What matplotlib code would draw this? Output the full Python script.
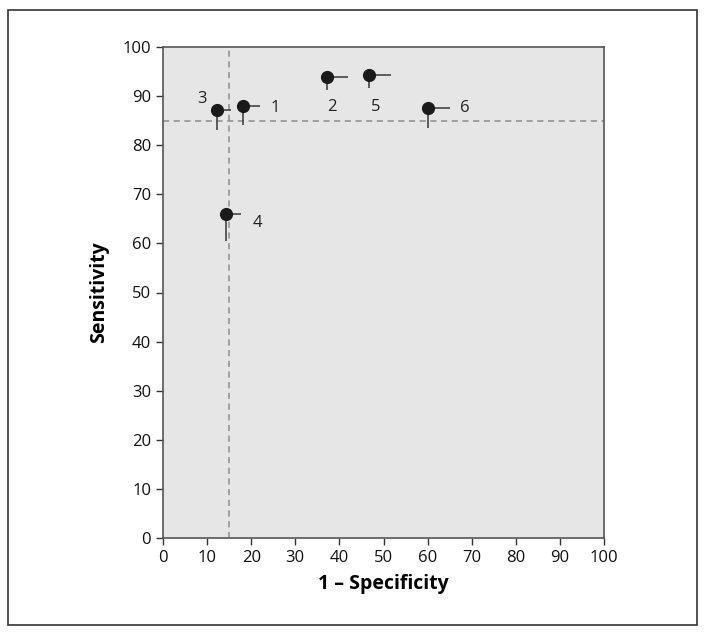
import matplotlib
matplotlib.use("Agg")
import matplotlib.pyplot as plt
from matplotlib.patches import Rectangle

labels = ["1", "2", "3", "4", "5", "6"]
fpr = [18.1, 37.2, 12.2, 14.3, 46.6, 60.1]          # 1 - specificity
sens = [88.0, 93.9, 87.2, 66.0, 94.3, 87.6]        # sensitivity
fpr_upper = [22.0, 41.9, 15.5, 17.7, 51.6, 65.1]   # right end of horizontal bar
sens_lower = [84.1, 91.2, 83.1, 60.5, 91.6, 83.5]  # lower end of vertical bar
label_xy = {"1": (25.5, 87.6), "2": (38.2, 87.7), "3": (8.9, 89.4),
            "4": (21.5, 64.1), "5": (48.3, 87.7), "6": (68.4, 87.6)}
cut_x = 15
cut_y = 85
ticks = list(range(0, 101, 10))

plt.rcParams['font.family'] = ['Open Sans', 'DejaVu Sans']

fig = plt.figure(figsize=(7.06, 6.36), dpi=100)
fig.patches.append(Rectangle((8/706, 1-625/636), (697-8)/706, (625-10)/636,
                             transform=fig.transFigure, fill=False,
                             edgecolor='#333333', linewidth=1.2))
ax = fig.add_axes([163/706, 1-538/636, (604-163)/706, (538-47)/636])
ax.set_facecolor('#e6e6e6')

ax.axvline(cut_x, color='#8c8c8c', linestyle=(0, (4, 3)), linewidth=1.1, zorder=1)
ax.axhline(cut_y, color='#8c8c8c', linestyle=(0, (4, 3)), linewidth=1.1, zorder=1)

for x, y, xu, yl in zip(fpr, sens, fpr_upper, sens_lower):
    ax.errorbar([x], [y], xerr=[[0], [xu - x]], yerr=[[y - yl], [0]],
                fmt='none', ecolor='#444444', elinewidth=1.2, capsize=0, zorder=2)
ax.scatter(fpr, sens, s=72, color='#1a1a1a', zorder=3)

for lab in labels:
    lx, ly = label_xy[lab]
    ax.text(lx, ly, lab, fontsize=12, ha='center', va='center', color='#222222')

ax.set_xlim(0, 100)
ax.set_ylim(0, 100)
ax.set_xticks(ticks)
ax.set_yticks(ticks)
ax.tick_params(direction='out', length=5, width=1, colors='#333333',
               labelsize=12, labelcolor='#111111')
for s in ax.spines.values():
    s.set_color('#555555')
    s.set_linewidth(1.2)

ax.set_xlabel('1 – Specificity', fontsize=14, fontweight='bold', labelpad=6)
ax.set_ylabel('Sensitivity', fontsize=14, fontweight='bold', labelpad=10)

fig.savefig('out.png', dpi=100)
